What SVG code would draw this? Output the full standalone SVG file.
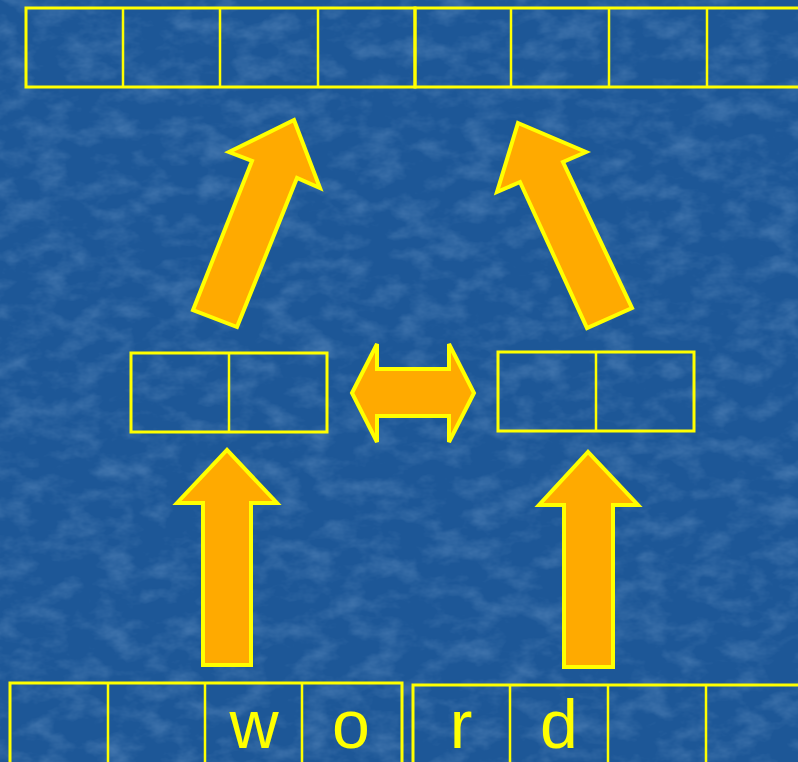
<svg xmlns="http://www.w3.org/2000/svg" width="798" height="762" viewBox="0 0 798 762">
  <defs>
    <filter id="tex" x="0" y="0" width="100%" height="100%">
      <feTurbulence type="fractalNoise" baseFrequency="0.03 0.05" numOctaves="4" seed="7" result="n"/>
      <feColorMatrix in="n" type="matrix" values="0 0 0 0 0.45  0 0 0 0 0.65  0 0 0 0 0.9  0 0 0 1.4 -0.6" result="c"/>
      <feComposite in="c" in2="SourceGraphic" operator="in"/>
    </filter>
    <style>
      .box { fill: none; stroke: #ffff00; stroke-width: 3; }
      .cell { stroke: #ffff00; stroke-width: 2.5; }
      .arrow { fill: #ffaa00; stroke: #ffff00; stroke-width: 4; stroke-linejoin: miter; }
      .lbl { font-family: "Liberation Sans", Arial, sans-serif; font-size: 68px; fill: #ffff00; text-anchor: middle; }
    </style>
  </defs>
  <rect width="798" height="762" fill="#1d5797"/>
  <rect width="798" height="762" fill="#2a66a8" filter="url(#tex)" opacity="0.35"/>

  <g id="top-left-array">
    <rect class="box" x="26" y="8" width="389" height="79"/>
    <line class="cell" x1="123" y1="8" x2="123" y2="87"/>
    <line class="cell" x1="220" y1="8" x2="220" y2="87"/>
    <line class="cell" x1="318" y1="8" x2="318" y2="87"/>
  </g>
  <g id="top-right-array">
    <path class="box" d="M 800 8 H 415 V 87 H 800"/>
    <line class="cell" x1="511" y1="8" x2="511" y2="87"/>
    <line class="cell" x1="609" y1="8" x2="609" y2="87"/>
    <line class="cell" x1="707" y1="8" x2="707" y2="87"/>
  </g>

  <g id="mid-left">
    <rect class="box" x="131" y="353" width="196" height="79"/>
    <line class="cell" x1="229" y1="353" x2="229" y2="432"/>
  </g>
  <g id="mid-right">
    <rect class="box" x="498" y="352" width="196" height="79"/>
    <line class="cell" x1="596" y1="352" x2="596" y2="431"/>
  </g>

  <g id="bottom-left-array">
    <path class="box" d="M 10 770 V 683 H 402 V 770"/>
    <line class="cell" x1="108" y1="683" x2="108" y2="770"/>
    <line class="cell" x1="205" y1="683" x2="205" y2="770"/>
    <line class="cell" x1="302" y1="683" x2="302" y2="770"/>
    <text class="lbl" x="254" y="748">w</text>
    <text class="lbl" x="351" y="748">o</text>
  </g>
  <g id="bottom-right-array">
    <path class="box" d="M 413 770 V 685 H 800"/>
    <line class="cell" x1="510" y1="685" x2="510" y2="770"/>
    <line class="cell" x1="608" y1="685" x2="608" y2="770"/>
    <line class="cell" x1="706" y1="685" x2="706" y2="770"/>
    <text class="lbl" x="461" y="748">r</text>
    <text class="lbl" x="559" y="748">d</text>
  </g>

  <g id="connectors">
    <polygon class="arrow" points="203,665 251,665 251,503 277,503 227,450 177,503 203,503"/>
    <polygon class="arrow" points="564,667 613,667 613,505 638,505 588,452 539,505 564,505"/>
    <polygon class="arrow" points="294,120 320,188 297,178 237,327 193,310 252,161 229,152"/>
    <polygon class="arrow" points="518,123 586,152 563,162 632,308 587,328 520,182 497,192"/>
    <polygon class="arrow" points="352,393 377,344 377,369 449,369 449,344 474,393 449,442 449,416 377,416 377,442"/>
  </g>
</svg>
